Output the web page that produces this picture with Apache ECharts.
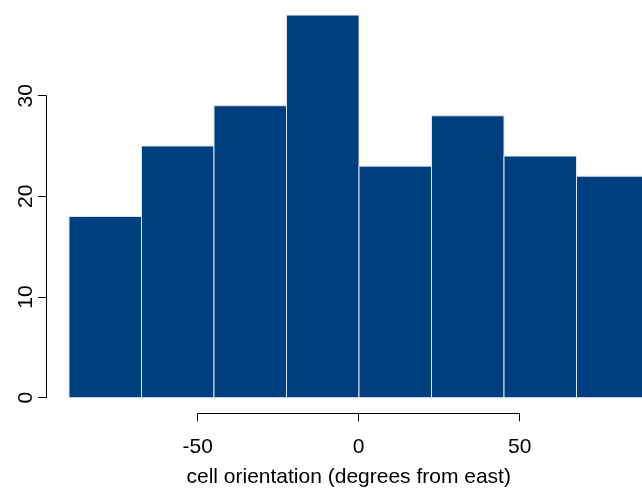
<!DOCTYPE html>
<html>
<head>
<meta charset="utf-8">
<script src="https://cdn.jsdelivr.net/npm/echarts@6/dist/echarts.min.js"></script>
<style>html,body{margin:0;padding:0;background:#fff}#c{width:642px;height:490px}</style>
</head>
<body>
<div id="c"></div>
<script>
// Histogram data
var binEdges = [-90, -67.5, -45, -22.5, 0, 22.5, 45, 67.5, 90];
var counts = [18, 25, 29, 38, 23, 28, 24, 22];
var xTicks = [-50, 0, 50];
var yTicks = [0, 10, 20, 30];
var xTitle = 'cell orientation (degrees from east)';

var bins = counts.map(function (c, i) { return [binEdges[i], binEdges[i + 1], c]; });

var font = 'Liberation Sans, Arial, Helvetica, sans-serif';
var fs = 21;

var chart = echarts.init(document.getElementById('c'));
var option = {
  animation: false,
  backgroundColor: '#ffffff',
  grid: [
    { left: 69, width: 580, top: 0, height: 397.7, outerBoundsMode: 'none', containLabel: false },
    { left: 69, width: 580, top: 95.7, height: 302, outerBoundsMode: 'none', containLabel: false },
    { left: 197.7, width: 322, top: 95.7, height: 302, outerBoundsMode: 'none', containLabel: false }
  ],
  xAxis: [
    { gridIndex: 0, type: 'value', min: binEdges[0], max: binEdges[binEdges.length - 1], show: false },
    { gridIndex: 1, type: 'value', min: 0, max: 1, show: false },
    { gridIndex: 2, type: 'value', min: xTicks[0], max: xTicks[xTicks.length - 1], interval: 50,
      position: 'bottom', offset: 15.6, z: 10,
      axisLine: { show: true, onZero: false, lineStyle: { color: '#000', width: 1 } },
      axisTick: { show: true, inside: false, length: 8, lineStyle: { color: '#000' } },
      axisLabel: { show: true, margin: 23, color: '#000', fontSize: fs, fontFamily: font,
        customValues: xTicks },
      splitLine: { show: false },
      name: xTitle, nameLocation: 'middle', nameGap: 53,
      nameTextStyle: { color: '#000', fontSize: fs, fontFamily: font, padding: [0, 20, 0, 0] } }
  ],
  yAxis: [
    { gridIndex: 0, type: 'value', min: 0, max: 39.5, show: false },
    { gridIndex: 1, type: 'value', min: yTicks[0], max: yTicks[yTicks.length - 1], interval: 10,
      position: 'left', offset: 23, z: 10,
      axisLine: { show: true, onZero: false, lineStyle: { color: '#000', width: 1 } },
      axisTick: { show: true, inside: false, length: 8, lineStyle: { color: '#000' } },
      axisLabel: { show: true, rotate: 90, margin: 9, color: '#000', fontSize: fs, fontFamily: font,
        customValues: yTicks },
      splitLine: { show: false } },
    { gridIndex: 2, type: 'value', min: 0, max: 1, show: false }
  ],
  series: [{
    type: 'custom',
    xAxisIndex: 0, yAxisIndex: 0,
    data: bins,
    encode: { x: [0, 1], y: 2 },
    renderItem: function (params, api) {
      var p0 = api.coord([api.value(0), api.value(2)]);
      var p1 = api.coord([api.value(1), 0]);
      return {
        type: 'rect',
        shape: { x: p0[0], y: p0[1], width: p1[0] - p0[0], height: p1[1] - p0[1] },
        style: { fill: '#003f7f', stroke: '#dfe5ec', lineWidth: 1 }
      };
    }
  }]
};
chart.setOption(option);
</script>
</body>
</html>
